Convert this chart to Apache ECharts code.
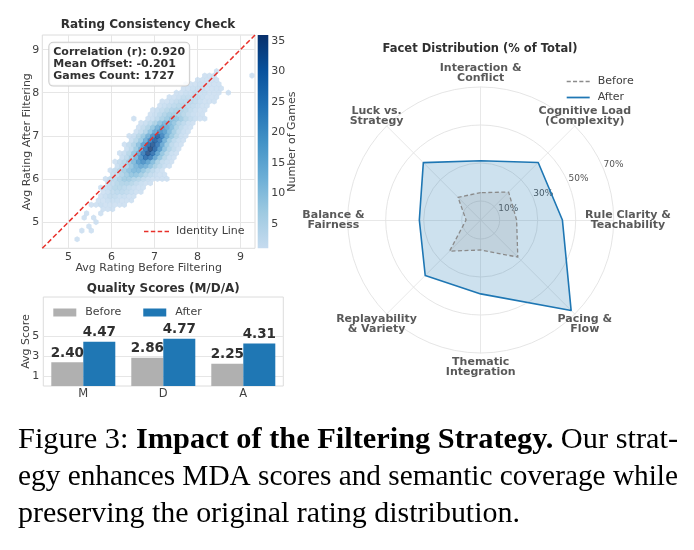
<!DOCTYPE html>
<html>
<head>
<meta charset="utf-8">
<script src="https://cdn.jsdelivr.net/npm/echarts@6.0.0/dist/echarts.min.js"></script>
<style>
html,body{margin:0;padding:0;background:#ffffff;}
#chart{width:694px;height:550px;}
</style>
</head>
<body>
<div id="chart"></div>
<script>
/* ===================== DATA ===================== */
// Panel A: hexbin, avg rating before vs after filtering
const ratingAxisRange = [4.39, 9.34];
const ratingTicks = [5, 6, 7, 8, 9];
const hexOriginX = 5.2, hexStepX = 0.11;   // hex column spacing (rating units)
const hexOriginY = 4.6, hexStepY = 0.1;    // hex row spacing (rating units)
// each row: [rowIndex, firstColumn, counts...]  (0 = empty cell)
const hexRows = [
  [0, 0, 1],
  [2, 1, 1, 0, 1],
  [3, 2, 1],
  [4, 4, 1],
  [5, 1, 1, 0, 1],
  [6, 2, 1, 0, 0, 1],
  [7, 5, 1, 1, 1],
  [8, 3, 1, 1, 2, 1, 1, 1, 1, 1],
  [9, 4, 1, 1, 2, 2, 2, 1, 1, 1],
  [10, 5, 1, 2, 3, 3, 2, 2, 1, 1],
  [11, 5, 1, 2, 3, 4, 4, 3, 2, 1, 1],
  [12, 5, 1, 2, 3, 5, 5, 4, 3, 2, 1, 1],
  [13, 6, 2, 3, 5, 6, 6, 5, 3, 2, 1, 1],
  [14, 6, 1, 3, 4, 6, 8, 8, 6, 5, 3, 2, 1, 1, 1, 1],
  [15, 7, 2, 3, 6, 8, 10, 10, 8, 5, 3, 2, 1, 1],
  [16, 7, 1, 3, 5, 8, 11, 13, 13, 10, 7, 4, 2, 1],
  [17, 8, 2, 4, 7, 10, 14, 17, 15, 11, 7, 4, 2, 1],
  [18, 8, 1, 3, 5, 9, 13, 19, 22, 18, 12, 7, 3, 2, 1],
  [19, 9, 2, 4, 8, 14, 22, 29, 26, 17, 10, 5, 2, 1],
  [20, 9, 1, 2, 5, 10, 17, 26, 34, 28, 18, 10, 5, 2, 1],
  [21, 10, 2, 4, 9, 16, 27, 36, 30, 20, 11, 6, 3, 1],
  [22, 10, 1, 3, 6, 11, 19, 30, 33, 27, 17, 9, 4, 2, 1],
  [23, 11, 2, 5, 9, 16, 25, 31, 26, 15, 8, 4, 2, 1],
  [24, 11, 1, 2, 5, 9, 15, 22, 31, 24, 15, 9, 5, 2, 1],
  [25, 12, 1, 3, 6, 11, 17, 22, 19, 13, 8, 4, 2, 1],
  [26, 13, 1, 3, 6, 10, 15, 18, 16, 12, 7, 4, 2, 1],
  [27, 13, 1, 2, 4, 7, 11, 14, 13, 10, 6, 4, 2, 1],
  [28, 12, 1, 0, 0, 1, 2, 4, 7, 9, 11, 10, 8, 5, 3, 2, 1, 1],
  [29, 15, 1, 2, 4, 6, 8, 8, 7, 5, 3, 2, 1, 1],
  [30, 16, 1, 2, 3, 5, 6, 7, 6, 5, 3, 2, 1, 1],
  [31, 17, 1, 2, 3, 4, 5, 5, 4, 3, 2, 1, 1],
  [32, 18, 1, 1, 2, 3, 4, 4, 4, 3, 2, 1, 1, 1],
  [33, 19, 1, 1, 2, 3, 3, 3, 3, 2, 1, 1, 1],
  [34, 21, 1, 1, 2, 2, 3, 2, 2, 1, 1, 1, 0, 1],
  [35, 22, 1, 1, 2, 2, 2, 1, 1, 1, 1],
  [36, 23, 1, 1, 1, 2, 1, 1, 1, 1],
  [37, 25, 1, 1, 1, 1, 1],
  [38, 27, 1, 1, 1, 0, 0, 0, 0, 0, 0, 0, 1],
  [39, 29, 1]
];
const countRange = [1, 36];
const countTicks = [5, 10, 15, 20, 25, 30, 35];
const statsLines = ['Correlation (r): 0.920', 'Mean Offset: -0.201', 'Games Count: 1727'];

// Panel B: quality scores
const mdaCategories = ['M', 'D', 'A'];
const mdaBefore = [2.40, 2.86, 2.25];
const mdaAfter = [4.47, 4.77, 4.31];
const mdaAxisRange = [0, 9];
const mdaTicks = [1, 3, 5];

// Panel C: facet distribution (clockwise from top)
const facets = [
  'Interaction &\nConflict',
  'Cognitive Load\n(Complexity)',
  'Rule Clarity &\nTeachability',
  'Pacing &\nFlow',
  'Thematic\nIntegration',
  'Replayability\n& Variety',
  'Balance &\nFairness',
  'Luck vs.\nStrategy'
];
const facetBefore = [14.4, 20.8, 18.9, 27.6, 15.8, 23.2, 7.7, 16.9];
const facetAfter  = [31.2, 42.8, 43.0, 67.3, 38.9, 41.3, 32.3, 42.7];
const facetAxisMax = 70;
const facetRingTicks = [10, 30, 50, 70];

// Caption
const captionLines = [
  [['n', 'Figure 3: '], ['b', 'Impact of the Filtering Strategy.'], ['n', ' Our strat-']],
  [['n', 'egy enhances MDA scores and semantic coverage while']],
  [['n', 'preserving the original rating distribution.']]
];

/* ===================== LAYOUT / STYLE ===================== */
const SANS = '"DejaVu Sans", sans-serif';
const SERIF = '"Liberation Serif", "Times New Roman", serif';
const TXT = '#303030', TXT2 = '#404040', GRIDC = '#e6e6e6', FRAME = '#dcdcdc';
const BLUE = '#1f77b4', GRAY = '#b0b0b0';
const blues = ['#c6dbef', '#9ecae1', '#6baed6', '#4292c6', '#2171b5', '#08519c', '#08306b'];

const gA = {left: 42.3, top: 35, width: 212.7, height: 213.3};
const gCB = {left: 257.7, top: 35, width: 10.6, height: 213.3};
const gB = {left: 43.3, top: 297, width: 240, height: 89};
const radarCenter = [480.7, 220], radarRadius = 133;
const facetLabelR = 77.5;

// hex cells from the rows
const hexData = [];
hexRows.forEach(function (row) {
  const k = row[0], c0 = row[1];
  for (let j = 2; j < row.length; j++) {
    const cnt = row[j];
    if (!cnt) continue;
    const col = c0 + (j - 2) + (k % 2 ? 0.5 : 0);
    hexData.push([hexOriginX + hexStepX * col, hexOriginY + hexStepY * k, cnt]);
  }
});
const span = ratingAxisRange[1] - ratingAxisRange[0];
const hexW = hexStepX * gA.width / span + 0.5;
const hexH = (4 / 3) * hexStepY * gA.height / span + 0.5;
const hexPath = 'path://M0,-1L0.866,-0.5L0.866,0.5L0,1L-0.866,0.5L-0.866,-0.5Z';

const dashIcon = 'path://M0,0h4.2v1.4h-4.2zM6.5,0h4.2v1.4h-4.2zM13,0h4.2v1.4h-4.2zM19.5,0h4.2v1.4h-4.2z';
const solidIcon = 'path://M0,0h23.7v1.8h-23.7z';

// radar uses counter-clockwise indicator order
const ccw = [0, 7, 6, 5, 4, 3, 2, 1];

const lblStyle = {color: TXT2, fontSize: 11, fontFamily: SANS};
const nameStyle = {color: TXT2, fontSize: 11, fontFamily: SANS};

/* caption measurement */
const mctx = document.createElement('canvas').getContext('2d');
const capFS = 30;
const capFonts = {n: capFS + 'px ' + SERIF, b: 'bold ' + capFS + 'px ' + SERIF};
const capTargets = [660, 660, 502];
const capY = [440, 477, 514];
const capLeft = 18;
const captionGraphics = captionLines.map(function (segs, i) {
  let w = 0;
  segs.forEach(function (s) { mctx.font = capFonts[s[0]]; w += mctx.measureText(s[1]).width; });
  return {
    type: 'text', x: capLeft, y: capY[i], scaleX: capTargets[i] / w,
    style: {
      text: segs.map(function (s) { return '{' + s[0] + '|' + s[1] + '}'; }).join(''),
      rich: {
        n: {fontSize: capFS, fontFamily: SERIF, fill: '#000'},
        b: {fontSize: capFS, fontFamily: SERIF, fontWeight: 'bold', fill: '#000'}
      },
      align: 'left', verticalAlign: 'middle'
    }
  };
});

const chart = echarts.init(document.getElementById('chart'), null, {renderer: 'canvas'});

const option = {
  animation: false,
  backgroundColor: '#ffffff',
  textStyle: {fontFamily: SANS},
  grid: [
    Object.assign({show: true, borderColor: FRAME, borderWidth: 1, backgroundColor: '#fff', outerBoundsMode: 'none'}, gA),
    Object.assign({show: false, outerBoundsMode: 'none'}, gCB),
    Object.assign({show: true, borderColor: FRAME, borderWidth: 1, backgroundColor: '#fff', outerBoundsMode: 'none'}, gB)
  ],
  xAxis: [
    {gridIndex: 0, type: 'value', min: ratingAxisRange[0], max: ratingAxisRange[1],
     axisLine: {show: false}, axisTick: {show: false, customValues: ratingTicks},
     axisLabel: Object.assign({customValues: ratingTicks, margin: 3}, lblStyle),
     splitLine: {show: true, lineStyle: {color: GRIDC, width: 1}},
     name: 'Avg Rating Before Filtering', nameLocation: 'middle', nameGap: 14, nameMoveOverlap: false,
     nameTextStyle: nameStyle},
    {gridIndex: 1, type: 'category', data: ['cb'], show: false, boundaryGap: true},
    {gridIndex: 2, type: 'category', data: mdaCategories,
     axisLine: {show: false}, axisTick: {show: false},
     axisLabel: Object.assign({margin: 2}, lblStyle, {fontSize: 11.5}), splitLine: {show: false}}
  ],
  yAxis: [
    {gridIndex: 0, type: 'value', min: ratingAxisRange[0], max: ratingAxisRange[1],
     axisLine: {show: false}, axisTick: {show: false, customValues: ratingTicks},
     axisLabel: Object.assign({customValues: ratingTicks, margin: 3}, lblStyle),
     splitLine: {show: true, lineStyle: {color: GRIDC, width: 1}},
     name: 'Avg Rating After Filtering', nameLocation: 'middle', nameGap: 10, nameMoveOverlap: false,
     nameTextStyle: nameStyle},
    {gridIndex: 1, type: 'value', min: countRange[0], max: countRange[1], position: 'right',
     axisLine: {show: false}, axisTick: {show: false, customValues: countTicks},
     axisLabel: Object.assign({customValues: countTicks, margin: 3}, lblStyle),
     splitLine: {show: false},
     name: 'Number of Games', nameLocation: 'middle', nameGap: 18.5, nameMoveOverlap: false,
     nameTextStyle: nameStyle},
    {gridIndex: 2, type: 'value', min: mdaAxisRange[0], max: mdaAxisRange[1],
     axisLine: {show: false}, axisTick: {show: false, customValues: mdaTicks},
     axisLabel: Object.assign({customValues: mdaTicks, margin: 4}, lblStyle),
     splitLine: {show: true, lineStyle: {color: GRIDC, width: 1}},
     name: 'Avg Score', nameLocation: 'middle', nameGap: 12, nameMoveOverlap: false,
     nameTextStyle: nameStyle}
  ],
  visualMap: [{
    show: false, type: 'continuous', seriesIndex: 0, dimension: 2,
    min: countRange[0], max: countRange[1], inRange: {color: blues}
  }],
  radar: {
    center: radarCenter, radius: radarRadius, startAngle: 90, shape: 'circle', splitNumber: 7,
    indicator: ccw.map(function (i) { return {name: facets[i], min: 0, max: facetAxisMax}; }),
    axisName: {show: false},
    axisLine: {lineStyle: {color: '#e2e2e2', width: 0.8}},
    splitLine: {lineStyle: {color: ['rgba(0,0,0,0)', '#dedede'], width: 0.8}},
    splitArea: {show: false},
    axisTick: {show: false}, axisLabel: {show: false}
  },
  polar: [
    {center: radarCenter, radius: radarRadius},
    {center: radarCenter, radius: radarRadius}
  ],
  angleAxis: [
    {polarIndex: 0, type: 'category', data: facets, startAngle: 90, clockwise: true, boundaryGap: false,
     axisLine: {show: false}, axisTick: {show: false}, axisLabel: {show: false}, splitLine: {show: false}},
    {polarIndex: 1, type: 'value', min: 0, max: 360, startAngle: 22.5,
     axisLine: {show: false}, axisTick: {show: false}, axisLabel: {show: false}, splitLine: {show: false}}
  ],
  radiusAxis: [
    {polarIndex: 0, type: 'value', min: 0, max: facetAxisMax,
     axisLine: {show: false}, axisTick: {show: false}, axisLabel: {show: false}, splitLine: {show: false}},
    {polarIndex: 1, type: 'value', min: 0, max: facetAxisMax, interval: 10,
     axisLine: {show: false}, axisTick: {show: false}, splitLine: {show: false},
     axisLabel: {
       margin: 0, align: 'left', verticalAlign: 'bottom', color: '#555', fontSize: 9, fontFamily: SANS,
       formatter: function (v) { return facetRingTicks.indexOf(v) >= 0 ? v + '%' : ''; }
     }}
  ],
  legend: [
    {left: 144, top: 226, padding: 0, itemWidth: 25, itemHeight: 10, symbolKeepAspect: true, selectedMode: false,
     data: [{name: 'Identity Line', icon: dashIcon, itemStyle: {color: '#e8302a', borderWidth: 0}}],
     textStyle: {color: TXT2, fontSize: 11, fontFamily: SANS, padding: [0, 0, 0, 2]}},
    {left: 53.3, top: 307, padding: 0, itemWidth: 23, itemHeight: 8, itemGap: 22, selectedMode: false,
     data: [{name: 'Before', icon: 'rect', itemStyle: {color: GRAY, borderWidth: 0}},
            {name: 'After', icon: 'rect', itemStyle: {color: BLUE, borderWidth: 0}}],
     textStyle: {color: TXT2, fontSize: 11, fontFamily: SANS, padding: [0, 0, 0, 4]}},
    {left: 566.7, top: 75, padding: 0, orient: 'vertical', itemWidth: 23, itemHeight: 10, itemGap: 3,
     symbolKeepAspect: true, selectedMode: false,
     data: [{name: 'Before', icon: dashIcon, itemStyle: {color: '#8c8c8c', borderWidth: 0}},
            {name: 'After', icon: solidIcon, itemStyle: {color: BLUE, borderWidth: 0}}],
     textStyle: {color: TXT2, fontSize: 11, fontFamily: SANS, lineHeight: 13, padding: [0, 0, 0, 3]}}
  ],
  series: [
    {type: 'scatter', xAxisIndex: 0, yAxisIndex: 0, data: hexData, symbol: hexPath,
     symbolSize: [hexW, hexH], silent: true, z: 2},
    {type: 'line', name: 'Identity Line', xAxisIndex: 0, yAxisIndex: 0,
     data: [[ratingAxisRange[0], ratingAxisRange[0]], [ratingAxisRange[1], ratingAxisRange[1]]],
     symbol: 'none', silent: true, z: 5,
     lineStyle: {color: '#e8302a', width: 1.5, type: [5, 2.6]}, itemStyle: {color: '#e8302a'}},
    {type: 'bar', xAxisIndex: 1, yAxisIndex: 1, stack: 'cb', barWidth: '100%', silent: true,
     data: [countRange[0]], itemStyle: {color: 'rgba(0,0,0,0)'}},
    {type: 'bar', xAxisIndex: 1, yAxisIndex: 1, stack: 'cb', barWidth: '100%', silent: true,
     data: [countRange[1] - countRange[0]],
     itemStyle: {color: new echarts.graphic.LinearGradient(0, 1, 0, 0,
       blues.map(function (c, i) { return {offset: i / (blues.length - 1), color: c}; }))}},
    {type: 'bar', name: 'Before', xAxisIndex: 2, yAxisIndex: 2, data: mdaBefore,
     barWidth: '40%', barGap: '0%', silent: true, itemStyle: {color: GRAY},
     label: {show: true, position: 'top', distance: 2, fontWeight: 'bold', fontSize: 13.5, color: TXT,
             fontFamily: SANS, formatter: function (p) { return p.value.toFixed(2); }}},
    {type: 'bar', name: 'After', xAxisIndex: 2, yAxisIndex: 2, data: mdaAfter,
     barWidth: '40%', barGap: '0%', silent: true, itemStyle: {color: BLUE},
     label: {show: true, position: 'top', distance: 2, fontWeight: 'bold', fontSize: 13.5, color: TXT,
             fontFamily: SANS, formatter: function (p) { return p.value.toFixed(2); }}},
    {type: 'radar', name: 'After', symbol: 'none', silent: true, z: 2,
     data: [{value: ccw.map(function (i) { return facetAfter[i]; })}],
     itemStyle: {color: BLUE},
     lineStyle: {color: BLUE, width: 1.6},
     areaStyle: {color: 'rgba(31,119,180,0.32)'}},
    {type: 'radar', name: 'Before', symbol: 'none', silent: true, z: 3,
     data: [{value: ccw.map(function (i) { return facetBefore[i]; })}],
     itemStyle: {color: '#8c8c8c'},
     lineStyle: {color: '#8c8c8c', width: 1.3, type: [4, 2.5]},
     areaStyle: {color: 'rgba(128,128,128,0.22)'}},
    {type: 'scatter', coordinateSystem: 'polar', polarIndex: 0, clip: false, silent: true,
     data: facets.map(function (f) { return {name: f, value: [facetLabelR, f]}; }),
     symbolSize: 1, itemStyle: {color: 'rgba(0,0,0,0)'}, z: 6,
     label: {show: true, position: 'inside', formatter: '{b}', color: TXT, fontWeight: 'bold',
             fontSize: 11, lineHeight: 10, fontFamily: SANS, align: 'center'}}
  ],
  graphic: [
    {type: 'text', x: 148, y: 25, style: {text: 'Rating Consistency Check', fontSize: 12, fontWeight: 'bold',
      fontFamily: SANS, fill: TXT, align: 'center', verticalAlign: 'middle'}},
    {type: 'text', x: 163.3, y: 288.5, style: {text: 'Quality Scores (M/D/A)', fontSize: 12, fontWeight: 'bold',
      fontFamily: SANS, fill: TXT, align: 'center', verticalAlign: 'middle'}},
    {type: 'text', x: 480, y: 49.3, style: {text: 'Facet Distribution (% of Total)', fontSize: 11.5, fontWeight: 'bold',
      fontFamily: SANS, fill: TXT, align: 'center', verticalAlign: 'middle'}},
    {type: 'text', x: 49.3, y: 42.7, z: 100, style: {text: statsLines.join('\n'), fontSize: 11, fontWeight: 'bold',
      fontFamily: SANS, fill: TXT, lineHeight: 12.3, align: 'left', verticalAlign: 'top',
      backgroundColor: 'rgba(255,255,255,0.85)', borderColor: '#cccccc', borderWidth: 1, borderRadius: 4,
      padding: [3, 4, 3, 4]}}
  ].concat(captionGraphics)
};

chart.setOption(option);
</script>
</body>
</html>
